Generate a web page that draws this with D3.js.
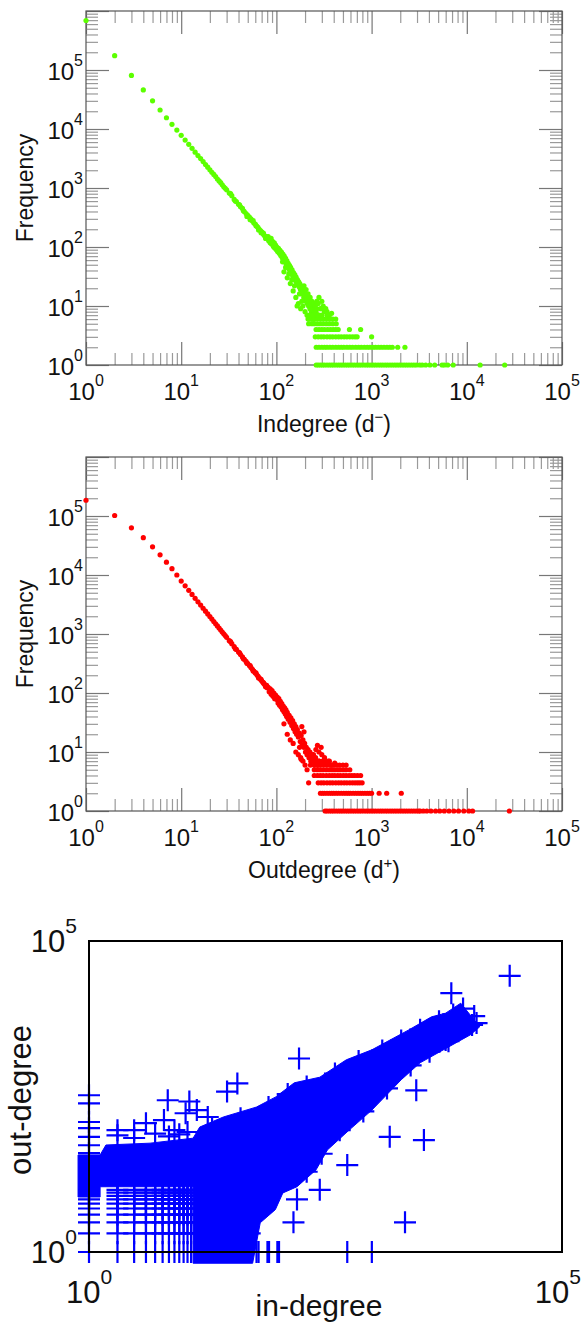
<!DOCTYPE html>
<html>
<head>
<meta charset="utf-8">
<script src="https://cdn.jsdelivr.net/npm/d3@7"></script>
<style>
  body { margin: 0; background: #fff; }
  text { font-family: "Liberation Sans", Arial, Helvetica, sans-serif; fill: #111; }
</style>
</head>
<body>
<svg id="chart" width="583" height="1334"></svg>
<script>
// ---------------- data: in-degree distribution (green) ----------------
// [degree, frequency]
var inHead = [[1,690000],[2,175000],[3,81000],[4,46000],[5,30000],[6,21000],[7,15500],[8,12000],[9,9600],[10,7800],
  [11,6500],[12,5500],[13,4700],[14,4050],[15,3550],[16,3150],[17,2800],[18,2500],[19,2250],[20,2030],
  [21,1850],[22,1700],[23,1560],[24,1420],[25,1320],[26,1230],[27,1130],[28,1050],[29,990],[30,930],
  [32,820],[33,800],[34,740],[36,640],[37,600],[38,590],[40,530],[41,520],[42,480],[44,450],[45,410],[46,400],
  [48,370],[49,330],[50,345],[52,320],[53,290],[54,300],[56,275],[57,280],[58,255],[60,245],[61,230],[62,225],
  [64,215],[65,195],[66,200],[68,190],[69,175],[70,180],[72,170],[73,172],[74,160],[76,152],[77,140],[78,146],
  [79,150],[80,138]];
var inCloud = [[82,150],[83,128],[85,135],[86,118],[88,140],[89,112],[91,125],[93,102],[95,118],[96,96],[98,108],
  [100,90],[101,100],[103,84],[105,95],[107,78],[109,88],[111,72],[113,82],[115,66],[117,76],[119,60],[121,70],
  [123,56],[125,64],[127,51],[129,58],[131,46],[133,53],[135,43],[137,49],[139,39],[141,45],[143,36],[146,41],
  [148,33],[151,37],[153,30],[156,34],[158,27],[161,31],[163,25],[166,28],[169,23],[171,26],[174,21],[176,24],
  [179,19],[181,22],[184,17],[186,20],[189,16],[191,18],[194,14],[197,17],[199,13],[202,15],[205,12],[208,14],
  [211,11],[214,13],[218,10],[221,12],[225,9],[229,11],[233,8],[237,10],[241,9],[246,8],[251,7],[256,9],[261,8],
  [150,18],[140,24],[130,30],[120,38],[160,14],[170,11],[175,16],[180,9],[190,10],[200,8],[210,7],[220,6],
  [230,7],[240,6],[250,6],[165,10],[185,12],[195,22],[205,19],[215,16],[226,14],[236,12],[246,11],[255,10],
  [264,9],[270,7],[280,7],[116,56],[125,45],[155,22],[145,28],[135,35],
  [275,11],[290,9],[300,9],[320,8],[340,8],[360,7],[300,12],[280,14],[265,12],[310,10],[330,9],[380,7.5]];
// degrees found on the low integer-frequency rows
var inRow1 = [262,275,290,305,320,340,360,380,400,425,450,475,500,530,560,590,625,660,700,740,780,830,880,930,
  985,1040,1100,1170,1240,1310,1390,1470,1560,1650,1750,1850,1960,2080,2200,2330,2470,2620,2780,2950,3200,
  3400,3700,4100,4600,5500,5800,6300,7200,13800,25000];
var inRow2 = [262,280,300,320,340,365,390,420,450,480,510,550,590,630,680,730,780,840,900,960,1030,1100,1180,
  1260,1350,1450,1550,1650,1880,2240];
var inRow3 = [256,275,295,315,340,365,390,420,450,480,515,550,590,630,670,705,1000];
var inRow4 = [261,280,300,320,345,370,395,420,446,585,767];
var inRow5 = [218,235,250,270,290,310,335,360,390,425];
var inRow6 = [215,232,250,268,290,312,336,362,390,420];
var inRow7 = [225,245,270,300,340];

// ---------------- data: out-degree distribution (red) ----------------
var outHead = [[1,185000],[2,102000],[3,63000],[4,43000],[5,30000],[6,22000],[7,16500],[8,12800],[9,10000],
  [10,7900],[11,6550],[12,5500],[13,4680],[14,4030],[15,3510],[16,3090],[17,2730],[18,2440],[19,2190],[20,1975],
  [21,1790],[22,1630],[23,1490],[24,1370],[25,1260],[26,1170],[27,1080],[28,1010],[29,940],[30,880],[32,770],
  [33,740],[34,685],[36,610],[37,560],[38,547],[40,494],[41,480],[42,448],[44,408],[45,380],[46,373],[48,343],
  [49,320],[50,316],[52,292],[53,290],[54,271],[56,252],[57,235],[58,235],[60,219],[61,220],[62,205],[64,193],
  [65,180],[66,181],[68,171],[69,170],[70,161],[72,152],[73,150],[74,144],[76,137],[77,128],[78,130],[79,135],
  [80,123]];
var outCloud = [[82,125],[84,105],[86,118],[88,95],[90,110],[92,88],[94,100],[96,80],[98,92],[100,78],[102,85],
  [104,68],[106,80],[108,62],[110,72],[112,58],[114,66],[116,52],[118,60],[120,48],[122,56],[124,44],[126,52],
  [128,40],[130,47],[133,36],[136,42],[139,32],[142,38],[145,28],[148,34],[151,25],[154,30],[157,22],[160,27],
  [163,20],[166,24],[170,18],[174,21],[178,15],[182,19],[186,13],[190,16],[194,12],[198,14],[202,10],[206,12],
  [210,9],[215,11],[220,8],[225,10],[230,7],[235,9],[240,8],[246,7],[252,6],[258,8],[265,7],[272,6],[280,7],
  [150,14],[160,10],[170,9],[180,8],[190,7],[200,6],[175,12],[210,5],[130,20],[140,16],[185,27],[195,22],
  [120,30],[182,7.5],[228,6],[245,9],
  [300,9],[320,8],[350,7],[280,10],[260,11],[330,6.5],[380,6],[295,12],[270,13],[410,6.5]];
var outRow1 = [325,340,360,380,400,425,450,475,500,530,560,590,625,660,700,740,780,830,880,930,985,1040,1100,
  1170,1240,1310,1390,1470,1560,1650,1750,1850,1960,2080,2200,2330,2470,2620,2780,2950,3120,3240,3500,3800,
  4200,4700,5200,5800,6500,7300,8200,9300,10500,11500,28000];
var outRow2 = [290,305,320,340,360,380,400,425,450,480,510,540,570,600,640,680,720,760,800,850,900,950,1000,
  1200,1440,2050];
var outRow3 = [218,275,295,315,340,365,390,420,450,480,515,550,590,630,670,710,750,795];
var outRow4 = [250,270,290,310,335,360,385,410,440,470,505,540,580,620,660,710,767];
var outRow5 = [250,270,290,310,335,360,385,410,440,470,505,540,590];
var outRow6 = [250,270,290,315,340,370,400,430,460,500,540];
var outRow7 = [235,255,280,305,330,360];

// ---------------- data: in-degree vs out-degree (blue crosses) ----------------
// outline of the solid core, [in-degree, out-degree]
var coreOutline = [[0.766,7.66],[0.766,36.3],[1.31,36.3],[1.51,52.5],[4.42,56.2],[12.6,67.6],[14.8,102],
  [26.3,148],[58.9,214],[93.3,309],[148,525],[275,646],[525,1230],[977,1780],[2400,3720],[4170,6030],
  [5890,6920],[8510,10000],[13500,4170],[10700,3090],[3160,1100],[2000,589],[977,191],[562,91.2],[331,43.7],
  [251,20.9],[158,11.2],[112,8.9],[93.3,4.8],[64.6,2.95],[58.9,1.4],[53.7,0.66],[12.6,0.66],[12.6,11.2],
  [1.31,11.2],[1.31,7.66]];
var gridIn = [1,2,3,4,5,6,7,8,9,10,11,12];
var gridOut = [1,2,3,4,5,6,7,8,9,10];
var firstColOut = [39,52,71,98,123,245,331];
// crosses sitting on the rim of the core
var rimCrosses = [[20,98],[40,141],[79,214],[126,347],[200,457],[398,741],[708,1175],[1259,1738],[1995,2512],
  [3162,3758],[5012,5129],[7079,6607],[6310,2455],[3981,1660],[2512,1000],[1413,427],[794,182],[447,91],
  [288,38],[200,19.5],[2,75],[3,68],[5,80],[7,72],[9,78],[11,85],[9000,8200],[11800,6200],[12500,4800]];
var looseCrosses = [[28000,27500],[6760,14500],[11200,4470],[166,1290],[6.8,275],[11.5,263],[28.8,380],
  [37,513],[1510,71],[3470,63],[537,25],[2880,398],[5890,2570],[2,91],[3,91],[4,118],[6.2,132],[8,91],
  [10.5,170],[13.8,191],[18,148],[2190,3],[537,1],[977,1],[158,7],[145,3],[275,10],[59,1],[62,1],[77,1],
  [80,1],[98,1],[102,1],[50,2]];

var svg = d3.select("#chart");

function powLabel(parent, x, y, anchor, exp, size, supSize, dy) {
  var t = parent.append("text")
    .attr("x", x)
    .attr("y", y)
    .attr("text-anchor", anchor)
    .attr("font-size", size);
  t.append("tspan").text("10");
  t.append("tspan").attr("dy", dy).attr("font-size", supSize).text(exp);
  return t;
}

function noDomain(sel) { sel.select(".domain").remove(); }

// one log-log degree distribution panel
function degreePanel(top, head, cloud, rows, color, titleText, titleSign) {
  var left = 86, right = 562, bottom = top + 354;
  var x = d3.scaleLog().domain([1, 1e5]).range([left, right]);
  var y = d3.scaleLog().domain([1, 1e6]).range([bottom, top]);
  var g = svg.append("g");

  var xAll = x.ticks(), yAll = y.ticks();
  var isMajor = v => Math.abs(Math.log10(v) - Math.round(Math.log10(v))) < 1e-9;
  var xMaj = xAll.filter(isMajor), xMin = xAll.filter(v => !isMajor(v));
  var yMaj = yAll.filter(isMajor), yMin = yAll.filter(v => !isMajor(v));

  var tickSets = [
    [d3.axisBottom(x).tickValues(xMin).tickSize(-12), `translate(0,${bottom})`, "#9a9a9a"],
    [d3.axisBottom(x).tickValues(xMaj).tickSize(-23), `translate(0,${bottom})`, "#777"],
    [d3.axisTop(x).tickValues(xMin).tickSize(-12), `translate(0,${top})`, "#9a9a9a"],
    [d3.axisTop(x).tickValues(xMaj).tickSize(-23), `translate(0,${top})`, "#777"],
    [d3.axisLeft(y).tickValues(yMin).tickSize(-12), `translate(${left},0)`, "#9a9a9a"],
    [d3.axisLeft(y).tickValues(yMaj).tickSize(-23), `translate(${left},0)`, "#777"],
    [d3.axisRight(y).tickValues(yMin).tickSize(-12), `translate(${right},0)`, "#9a9a9a"],
    [d3.axisRight(y).tickValues(yMaj).tickSize(-23), `translate(${right},0)`, "#777"]
  ];
  tickSets.forEach(function(s) {
    g.append("g")
      .attr("transform", s[1])
      .call(s[0].tickFormat(""))
      .call(noDomain)
      .selectAll("line")
      .attr("stroke", s[2])
      .attr("stroke-width", 1.2);
  });

  g.append("rect")
    .attr("x", left).attr("y", top)
    .attr("width", right - left).attr("height", bottom - top)
    .attr("fill", "none")
    .attr("stroke", "#555")
    .attr("stroke-width", 1.2);

  // tick labels
  xMaj.forEach(function(v) {
    powLabel(g, x(v), bottom + 35, "middle", Math.round(Math.log10(v)), 24, 16, -14);
  });
  yMaj.filter(v => v < 1e6).forEach(function(v) {
    powLabel(g, 83, y(v) + 10, "end", Math.round(Math.log10(v)), 24, 16, -14);
  });

  // titles
  var t = g.append("text")
    .attr("x", (left + right) / 2)
    .attr("y", bottom + 67)
    .attr("text-anchor", "middle")
    .attr("font-size", 23);
  t.append("tspan").text(titleText + " (d");
  t.append("tspan").attr("dy", -10).attr("font-size", 15).text(titleSign);
  t.append("tspan").attr("dy", 10).text(")");

  g.append("text")
    .attr("transform", `translate(33,${(top + bottom) / 2}) rotate(-90)`)
    .attr("text-anchor", "middle")
    .attr("font-size", 23)
    .text("Frequency");

  // points
  var pts = head.concat(cloud);
  rows.forEach(function(r) {
    r[1].forEach(function(d) { pts.push([d, r[0]]); });
  });
  g.append("g").selectAll("circle")
    .data(pts)
    .enter()
    .append("circle")
    .attr("cx", d => x(d[0]))
    .attr("cy", d => y(d[1]))
    .attr("r", 2.6)
    .attr("fill", color);
}

degreePanel(11, inHead, inCloud,
  [[1,inRow1],[2,inRow2],[3,inRow3],[4,inRow4],[5,inRow5],[6,inRow6],[7,inRow7]],
  "#5cff00", "Indegree", "\u2212");
degreePanel(457, outHead, outCloud,
  [[1,outRow1],[2,outRow2],[3,outRow3],[4,outRow4],[5,outRow5],[6,outRow6],[7,outRow7]],
  "#ff0000", "Outdegree", "+");

// ---------------- bottom panel: in-degree vs out-degree ----------------
var bx = d3.scaleLog().domain([1, 1e5]).range([89, 562]);
var by = d3.scaleLog().domain([1, 1e5]).range([1252, 941]);
var bg = svg.append("g");
var blue = "#0000ff";

bg.append("path")
  .datum(coreOutline)
  .attr("d", d3.line().x(d => bx(d[0])).y(d => by(d[1])).curve(d3.curveLinearClosed))
  .attr("fill", blue)
  .attr("stroke", blue)
  .attr("stroke-width", 1);

var crossPts = [];
gridIn.forEach(function(a) { gridOut.forEach(function(b) { crossPts.push([a, b]); }); });
firstColOut.forEach(function(b) { crossPts.push([1, b]); });
crossPts = crossPts.concat(rimCrosses, looseCrosses);

bg.append("g").selectAll("path")
  .data(crossPts)
  .enter()
  .append("path")
  .attr("transform", d => `translate(${bx(d[0])},${by(d[1])})`)
  .attr("d", "M-11,0H11M0,-11V11")
  .attr("stroke", blue)
  .attr("stroke-width", 2.2)
  .attr("fill", "none");

bg.append("rect")
  .attr("x", 89).attr("y", 941)
  .attr("width", 562 - 89).attr("height", 1252 - 941)
  .attr("fill", "none")
  .attr("stroke", "#000")
  .attr("stroke-width", 2);

powLabel(bg, 77, by(1e5) + 11, "end", 5, 31, 21, -19);
powLabel(bg, 77, by(1) + 11, "end", 0, 31, 21, -19);
powLabel(bg, bx(1), 1303, "middle", 0, 31, 21, -19);
powLabel(bg, 581, 1303, "end", 5, 31, 21, -19);

bg.append("text")
  .attr("x", 319)
  .attr("y", 1316)
  .attr("text-anchor", "middle")
  .attr("font-size", 30)
  .text("in-degree");

bg.append("text")
  .attr("transform", "translate(31,1100) rotate(-90)")
  .attr("text-anchor", "middle")
  .attr("font-size", 31)
  .text("out-degree");
</script>
</body>
</html>
